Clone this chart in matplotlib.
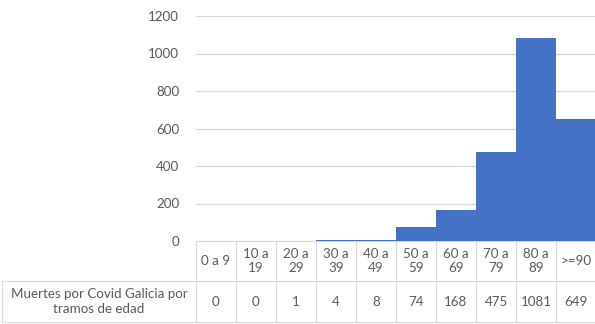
import numpy as np
import matplotlib
matplotlib.use("Agg")
import matplotlib.pyplot as plt
from matplotlib import transforms

matplotlib.rcParams['font.family'] = ['Lato', 'DejaVu Sans']

TRAMOS = ["0 a 9", "10 a\n19", "20 a\n29", "30 a\n39", "40 a\n49",
          "50 a\n59", "60 a\n69", "70 a\n79", "80 a\n89", ">=90"]
MUERTES = [0, 0, 1, 4, 8, 74, 168, 475, 1081, 649]
SERIE = "Muertes por Covid Galicia por\ntramos de edad"
YTICKS = [0, 200, 400, 600, 800, 1000, 1200]

BLUE = "#4472C4"
GRID = "#D9D9D9"
TEXT = "#595959"
FS = 9.6

fig = plt.figure(figsize=(5.95, 3.24), dpi=100)
W, H = 595.0, 324.0
ax = fig.add_axes([196 / W, (H - 241) / H, 400 / W, 225 / H])

ind = np.arange(len(TRAMOS))
ax.bar(ind, MUERTES, width=1.0, color=BLUE, linewidth=0, zorder=3)

ax.set_xlim(-0.5, len(TRAMOS) - 0.5)
ax.set_ylim(0, 1200)
ax.set_yticks(YTICKS)
ax.set_yticklabels([str(v) for v in YTICKS], color=TEXT, fontsize=FS)
ax.tick_params(axis='y', length=0, pad=12)
ax.set_xticks([])
ax.yaxis.grid(True, color=GRID, linewidth=0.8, zorder=0)
for s in ax.spines.values():
	s.set_visible(False)

# data table under the axis
tr = transforms.blended_transform_factory(ax.transData, ax.transAxes)
h1 = 40 / 225.0
h2 = 81 / 225.0
y_bot = -h2
x_left = -0.5 - 194 / 40.0
x0, x1 = -0.5, len(TRAMOS) - 0.5
lw = 0.8

def hline(y, xa, xb):
	ax.plot([xa, xb], [y, y], color=GRID, lw=lw, transform=tr, clip_on=False, zorder=1)

def vline(x, ya, yb):
	ax.plot([x, x], [ya, yb], color=GRID, lw=lw, transform=tr, clip_on=False, zorder=1)

hline(0, x0, x1 + 0.2)
hline(-h1, x_left, x1 + 0.2)
hline(y_bot, x_left, x1 + 0.2)
vline(x_left, -h1, y_bot)
for i in range(len(TRAMOS) + 1):
	vline(i - 0.5, 0, y_bot)

for i, (lab, v) in enumerate(zip(TRAMOS, MUERTES)):
	ax.text(i, -h1 / 2, lab, ha="center", va="center", color=TEXT, fontsize=FS,
			linespacing=1.1, transform=tr, clip_on=False)
	ax.text(i, -(h1 + h2) / 2, str(v), ha="center", va="center", color=TEXT, fontsize=FS,
			transform=tr, clip_on=False)

ax.text((x_left + x0) / 2, -(h1 + h2) / 2, SERIE, ha="center", va="center", color=TEXT,
		fontsize=FS, linespacing=1.25, transform=tr, clip_on=False)

fig.savefig("out.png", dpi=100)
plt.close()
